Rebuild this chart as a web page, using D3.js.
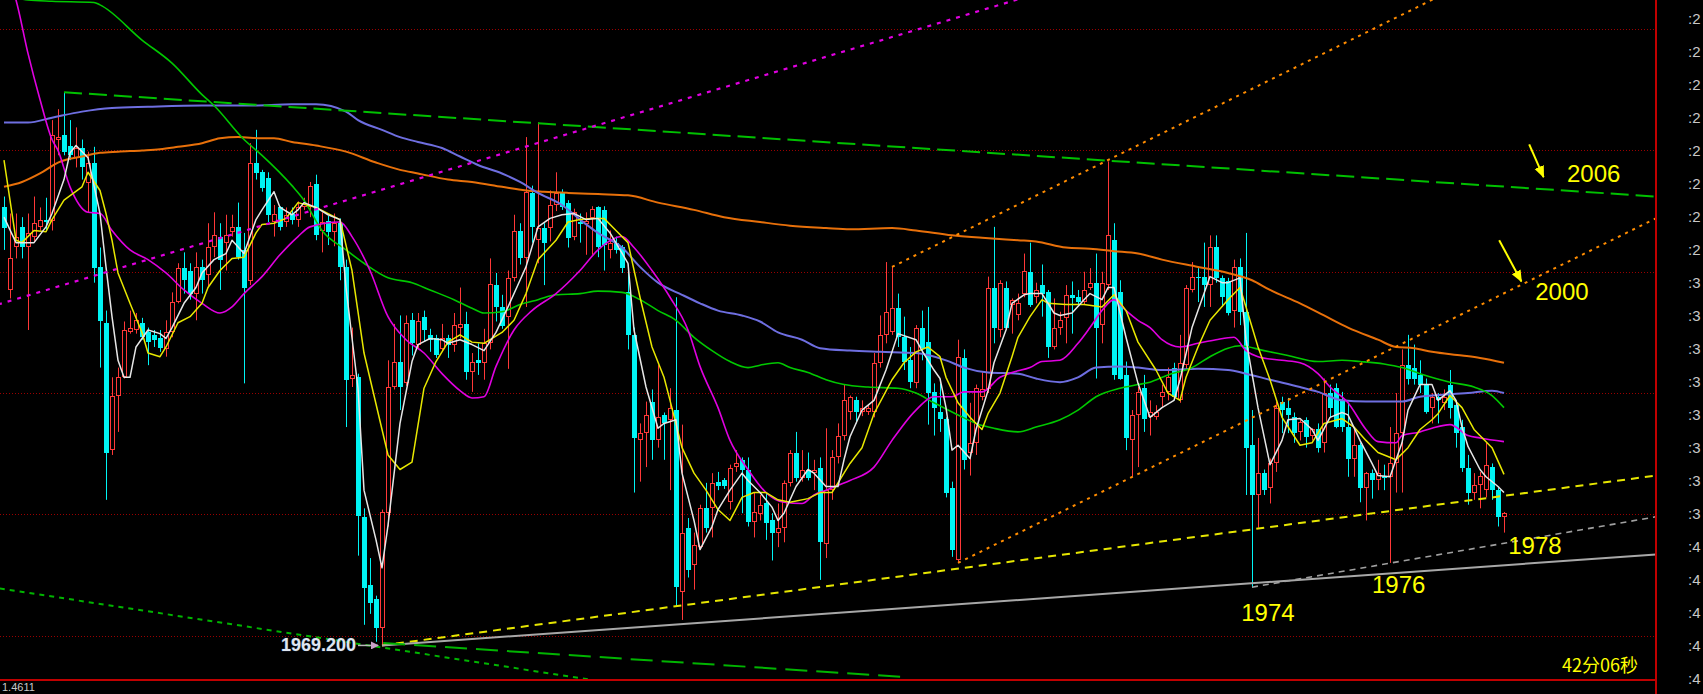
<!DOCTYPE html>
<html><head><meta charset="utf-8">
<script src="https://cdn.jsdelivr.net/npm/d3@7"></script>
<style>html,body{margin:0;padding:0;background:#000;overflow:hidden}</style>
</head><body><svg id="c" width="1703" height="694"></svg>
<script>
// ---------- DATA (prices) ----------
const opens = [
2005.3,1998.5,2002.0,2003.7,2002.0,2002.9,2003.7,2004.3,2004.2,2010.9,
2011.3,2010.4,2009.4,2010.2,2007.3,2009.0,2000.4,1995.8,1985.3,1989.8,
1991.3,1995.0,1995.2,1995.8,1995.0,1994.8,1994.5,1993.6,1995.0,1997.5,
2000.3,2000.1,1998.2,2000.4,1999.7,2002.0,2002.9,2002.4,2003.3,2003.7,
2001.8,1999.2,2009.0,2008.2,2007.7,2004.1,2005.3,2004.1,2004.8,2004.3,
2005.3,2005.3,2007.2,2003.4,2004.2,2003.3,2004.0,2000.4,1991.2,1991.3,
1979.8,1974.2,1973.0,1970.6,1980.1,1990.5,1992.6,1990.8,1996.0,1994.0,
1996.3,1994.8,1994.5,1993.6,1994.5,1994.0,1995.4,1995.7,1991.7,1992.7,
1992.5,1994.1,1998.9,1997.1,1996.3,1999.5,2003.4,2001.1,2006.5,2002.6,
2003.6,2003.6,2005.5,2006.6,2005.7,2002.9,2004.1,2003.9,2004.4,2005.3,
2005.1,2001.8,2002.4,2002.0,1998.3,1994.8,1986.1,1986.7,1989.3,1986.1,
1988.2,1987.8,1988.6,1973.6,1978.9,1975.8,1977.3,1980.5,1980.5,1982.7,
1982.8,1981.0,1983.9,1984.5,1983.7,1979.4,1980.0,1980.9,1979.5,1978.5,
1978.9,1982.6,1985.1,1983.0,1983.7,1983.4,1983.8,1977.6,1982.0,1984.7,
1986.5,1988.4,1989.4,1988.4,1988.4,1988.4,1992.5,1994.8,1995.0,1997.0,
1994.6,1992.7,1990.8,1995.4,1994.2,1990.1,1988.4,1987.9,1982.2,1976.2,
1992.9,1985.1,1985.9,1989.7,1990.3,1998.7,1995.2,1998.7,1997.3,1996.4,
1998.2,2000.0,1997.9,1998.9,1998.3,1993.8,1995.4,1996.2,1998.1,1997.9,
1997.5,1998.7,1999.1,1995.6,1998.9,2002.6,1998.3,1991.5,1986.1,1988.2,
1990.4,1988.0,1988.0,1989.7,1990.1,1992.1,1989.4,1992.3,1998.5,1999.6,
1999.6,1998.9,2002.0,1999.5,1999.2,1996.8,2000.4,1996.7,1985.7,1981.6,
1983.4,1982.2,1984.2,1989.3,1988.8,1988.0,1986.8,1987.8,1986.5,1987.0,
1985.9,1990.0,1990.4,1989.4,1987.2,1984.6,1985.7,1982.2,1983.4,1982.8,
1983.2,1983.1,1984.2,1986.7,1992.3,1992.1,1991.5,1990.7,1988.8,1989.7,
1989.2,1990.7,1989.0,1987.2,1983.8,1981.8,1982.4,1982.0,1983.9,1982.0,
1979.8];
const highs = [
2006.2,2004.8,2004.8,2004.5,2004.8,2006.2,2005.3,2006.1,2012.5,2013.4,
2014.8,2012.5,2011.9,2010.9,2009.9,2010.3,2002.0,1996.8,1991.3,1992.1,
1995.9,1996.8,1996.6,1996.2,1995.4,1995.2,1995.2,1996.0,1998.3,2000.7,
2001.6,2000.7,2001.6,2001.0,2004.0,2004.9,2004.0,2004.7,2004.7,2005.7,
2003.2,2010.6,2011.7,2008.4,2008.2,2005.5,2005.4,2005.3,2005.3,2005.8,
2006.1,2007.4,2008.0,2004.9,2004.6,2004.8,2004.4,2001.0,1995.4,1991.6,
1980.5,1976.4,1973.3,1980.4,1992.7,1995.7,1996.4,1996.4,1996.6,1996.6,
1996.8,1995.3,1994.8,1995.7,1994.8,1996.6,1998.7,1996.7,1993.3,1994.1,
1995.3,2001.1,1999.9,1998.1,2000.1,2004.7,2004.0,2011.1,2007.1,2012.3,
2004.0,2006.7,2008.2,2006.8,2005.9,2005.2,2004.8,2004.9,2005.4,2005.4,
2005.4,2003.4,2002.9,2002.2,2000.6,1995.4,1987.5,1989.3,1990.3,1992.3,
1988.4,1990.4,1997.9,1987.4,1979.7,1978.5,1980.8,1982.6,1983.4,1983.5,
1983.0,1984.1,1985.3,1984.7,1984.7,1981.8,1981.6,1981.8,1980.1,1980.9,
1982.8,1985.3,1986.8,1985.3,1985.1,1984.5,1984.7,1987.1,1985.3,1987.5,
1990.7,1989.8,1989.7,1989.4,1989.0,1993.3,1996.4,2000.8,2000.4,1998.2,
1996.3,1993.8,1995.6,1996.8,1997.1,1990.8,1990.8,1988.0,1982.7,1994.4,
1993.6,1989.2,1990.7,1991.7,1999.6,2003.7,1999.3,1999.2,1997.8,1998.2,
2001.5,2002.4,1999.1,2000.6,1998.5,1997.8,1996.7,1998.9,1999.2,1998.5,
2000.0,2000.3,2001.5,2000.0,2009.1,2004.0,1999.3,1992.6,1988.6,1990.5,
1991.5,1989.4,1989.0,1990.7,1992.1,1992.5,1994.8,1998.9,2000.8,2000.3,
2002.4,2003.0,2003.0,1999.7,1999.5,2001.0,2001.1,2003.2,1988.6,1986.3,
1983.7,1984.6,1989.3,1989.7,1989.6,1988.4,1987.8,1988.0,1987.1,1987.5,
1991.2,1990.7,1990.8,1990.1,1989.2,1987.1,1985.9,1983.5,1983.7,1984.5,
1984.1,1987.2,1990.0,1993.6,1994.8,1994.0,1992.7,1991.2,1990.0,1990.0,
1990.3,1991.9,1989.4,1987.8,1984.9,1983.4,1983.5,1985.9,1984.2,1982.2,
1980.2];
const lows = [
2001.8,1997.8,2001.1,2001.1,1995.2,2002.4,2003.4,2003.4,2003.4,2009.6,
2009.6,2009.2,2008.6,2007.6,2004.9,1999.1,1992.1,1981.2,1984.9,1986.8,
1991.2,1994.9,1994.9,1994.4,1992.3,1993.8,1993.4,1993.0,1994.6,1997.4,
1998.2,1997.7,1996.0,1998.2,1998.7,2001.2,1998.5,2000.1,2002.9,2001.0,
1990.8,1998.9,2007.6,2006.6,2004.1,2002.9,2003.4,2003.7,2003.9,2003.7,
2005.1,2004.5,2002.6,2001.6,2002.2,2002.1,1999.3,1987.2,1990.5,1976.6,
1970.9,1971.8,1969.5,1969.2,1979.0,1990.3,1988.6,1990.6,1993.1,1993.7,
1994.3,1993.4,1992.9,1993.4,1992.9,1993.4,1994.5,1991.1,1990.1,1991.5,
1991.1,1993.6,1995.9,1995.3,1992.0,1999.2,2000.6,1997.1,2002.4,2000.7,
1998.9,2002.5,2005.0,2005.1,2002.0,2002.6,2002.4,2001.4,2001.4,2001.2,
2000.1,2001.1,2001.5,1999.9,1993.6,1981.8,1982.7,1983.9,1984.5,1985.5,
1984.5,1982.0,1972.4,1971.3,1974.8,1973.8,1977.1,1978.5,1978.1,1982.0,
1982.1,1980.4,1983.5,1980.1,1979.0,1978.1,1979.5,1977.9,1976.2,1977.3,
1977.7,1982.3,1982.7,1982.7,1982.8,1982.0,1974.6,1976.4,1981.2,1984.2,
1986.1,1987.8,1987.5,1988.1,1988.2,1988.0,1992.1,1994.1,1994.8,1993.8,
1991.9,1990.4,1990.4,1992.7,1987.4,1986.5,1986.8,1981.4,1976.5,1976.0,
1983.7,1983.2,1984.9,1989.4,1990.0,1994.1,1994.6,1995.2,1994.9,1996.0,
1997.9,1997.1,1997.4,1996.3,1992.9,1993.6,1994.8,1994.1,1994.9,1997.3,
1997.3,1998.5,1991.2,1994.1,1998.5,1991.1,1991.1,1985.3,1983.1,1983.9,
1986.8,1986.5,1987.8,1988.8,1989.4,1989.4,1989.2,1991.9,1998.3,1997.5,
1997.1,1997.1,1999.1,1997.1,1996.4,1995.4,1995.6,1981.6,1974.0,1978.9,
1981.6,1980.9,1983.5,1986.7,1986.7,1985.9,1986.1,1985.5,1986.1,1985.1,
1985.1,1988.0,1987.1,1986.8,1983.1,1983.1,1981.0,1979.5,1981.3,1982.0,
1982.0,1976.0,1981.8,1981.8,1990.7,1990.7,1990.0,1988.3,1987.5,1987.5,
1988.6,1987.9,1985.5,1983.5,1980.8,1981.2,1980.5,1981.4,1981.2,1979.0,
1978.5];
const closes = [
2003.6,2001.1,2002.9,2002.0,2003.2,2004.0,2004.3,2004.1,2011.3,2011.1,
2009.9,2009.6,2010.2,2008.6,2009.0,2000.3,1995.9,1985.1,1989.8,1991.3,
1995.2,1995.4,1996.0,1994.6,1994.2,1994.4,1993.7,1995.0,1997.5,2000.3,
1999.3,1998.2,2000.4,1999.3,2002.0,2003.0,2001.0,2003.0,2003.7,2001.2,
1998.7,2009.0,2008.1,2006.9,2004.7,2004.8,2003.7,2004.7,2004.3,2005.3,
2005.7,2007.1,2003.0,2004.1,2003.3,2004.0,2000.4,1991.1,1991.5,1979.9,
1973.9,1972.7,1970.6,1980.2,1990.5,1992.6,1990.5,1995.8,1994.1,1995.9,
1995.2,1994.4,1993.1,1994.5,1994.0,1995.6,1995.7,1991.7,1992.6,1992.5,
1994.1,1999.0,1997.1,1995.5,1999.5,2003.4,2001.1,2006.6,2003.7,2003.6,
2002.4,2005.5,2006.5,2005.3,2002.8,2004.9,2003.9,2004.2,2005.2,2002.0,
2002.2,2002.4,2001.8,2000.3,1994.8,1986.3,1986.7,1988.2,1986.1,1988.0,
1987.5,1988.8,1974.0,1978.5,1975.4,1977.5,1980.5,1978.9,1982.6,1982.3,
1982.3,1983.8,1984.2,1983.7,1979.4,1980.2,1980.8,1979.3,1978.5,1978.9,
1982.6,1985.1,1983.0,1983.7,1983.0,1983.7,1977.7,1982.0,1984.7,1986.5,
1989.4,1989.7,1988.4,1988.8,1988.8,1992.5,1994.8,1996.7,1997.0,1994.6,
1992.6,1990.9,1995.4,1993.7,1990.0,1988.8,1987.9,1981.8,1977.1,1993.0,
1984.5,1985.9,1990.4,1990.3,1998.7,1995.4,1999.1,1995.4,1997.7,1997.4,
2000.1,1997.3,1998.5,1998.2,1993.8,1995.4,1996.0,1998.1,1997.8,1997.5,
1998.5,1999.1,1995.4,1999.1,2003.0,1991.5,1991.2,1986.3,1988.2,1990.1,
1987.9,1988.4,1988.4,1990.1,1991.3,1989.7,1992.5,1998.7,1999.6,1999.5,
1998.9,2002.0,1999.5,1997.9,1996.6,2000.4,1996.7,1985.5,1981.6,1983.4,
1982.0,1984.2,1988.8,1988.6,1988.2,1986.7,1987.6,1986.4,1987.0,1985.5,
1990.0,1988.8,1987.2,1987.2,1984.6,1985.7,1982.2,1983.4,1982.8,1983.4,
1983.0,1984.2,1986.7,1992.3,1991.2,1991.2,1990.7,1988.4,1989.7,1989.4,
1989.7,1988.8,1986.7,1983.8,1981.8,1982.4,1983.2,1984.1,1982.0,1979.8,
1980.1];

// moving-average lines: [candle index, price]
const maWhite = [[0,2004.5],[2,2002.4],[3,2002.4],[5,2002.4],[7,2003.7],[8,2004.8],[10,2007.6],[11,2009.8],[12,2010.4],[14,2009.4],[16,2004.8],[17,2000.4],[18,1996.3],[19,1992.7],[20,1991.3],[21,1991.3],[22,1993.8],[24,1995.2],[26,1994.9],[27,1994.5],[28,1995.4],[30,1997.4],[32,1998.7],[33,1999.9],[35,2001.0],[37,2001.5],[38,2002.6],[40,2001.5],[42,2004.3],[43,2005.1],[45,2006.6],[46,2005.3],[48,2004.7],[49,2005.1],[50,2005.7],[52,2005.3],[54,2004.7],[56,2004.3],[57,1998.7],[59,1990.4],[60,1982.0],[62,1977.9],[63,1975.6],[64,1979.1],[66,1987.5],[68,1992.6],[69,1994.0],[71,1994.5],[73,1994.4],[74,1994.1],[76,1994.4],[78,1994.0],[80,1993.5],[82,1995.0],[84,1997.1],[86,1999.3],[87,2000.4],[89,2003.7],[91,2004.4],[93,2004.7],[95,2004.8],[97,2004.3],[99,2004.4],[101,2003.2],[104,2000.7],[105,1995.2],[107,1990.5],[109,1987.1],[110,1987.5],[112,1987.8],[113,1983.4],[115,1979.5],[116,1977.1],[118,1979.0],[119,1980.4],[121,1982.0],[123,1983.4],[124,1982.8],[126,1981.8],[128,1980.6],[129,1979.5],[130,1980.1],[132,1982.3],[134,1983.7],[135,1983.4],[137,1982.3],[139,1982.3],[140,1984.5],[141,1986.4],[143,1988.6],[145,1989.4],[147,1991.9],[149,1994.9],[152,1994.4],[153,1993.5],[155,1991.9],[156,1991.2],[157,1988.8],[158,1985.3],[159,1985.7],[161,1984.6],[162,1987.0],[164,1990.2],[165,1992.5],[167,1995.2],[168,1997.4],[170,1998.1],[171,1998.2],[173,1998.2],[175,1996.6],[176,1996.4],[178,1996.6],[180,1997.7],[181,1998.2],[183,1997.7],[184,1998.7],[185,1998.7],[187,1994.6],[189,1990.8],[191,1988.0],[193,1988.8],[195,1989.4],[196,1991.1],[198,1995.4],[200,1998.2],[201,1999.6],[203,1999.1],[204,1999.1],[206,1999.5],[207,1994.4],[209,1988.8],[211,1984.1],[213,1986.1],[214,1987.8],[216,1987.9],[218,1987.0],[219,1986.1],[221,1988.0],[223,1988.4],[224,1988.2],[226,1986.1],[228,1984.2],[229,1983.2],[231,1983.1],[233,1985.9],[234,1988.6],[236,1990.7],[238,1990.7],[239,1989.4],[241,1990.2],[242,1989.4],[243,1987.2],[244,1985.6],[246,1983.7],[247,1983.1],[249,1982.3],[250,1981.8]];
const maYellow = [[0,2009.2],[1,2005.9],[2,2002.6],[3,2002.4],[5,2003.4],[7,2003.3],[8,2004.3],[10,2005.9],[13,2007.0],[14,2008.2],[16,2006.7],[17,2004.8],[18,2002.6],[19,1999.9],[21,1997.4],[23,1995.0],[24,1993.3],[26,1993.0],[27,1993.8],[29,1995.8],[31,1996.3],[33,1997.4],[34,1998.7],[36,2000.1],[38,2001.1],[40,2001.2],[42,2003.2],[43,2003.9],[45,2004.0],[47,2004.4],[49,2005.7],[52,2005.3],[56,2004.3],[58,2000.1],[60,1993.3],[63,1987.0],[64,1984.9],[66,1983.7],[68,1984.3],[70,1990.4],[72,1992.6],[74,1994.2],[76,1994.8],[78,1994.2],[80,1994.1],[83,1995.0],[85,1996.0],[87,1998.2],[89,2001.0],[92,2002.6],[94,2004.1],[96,2004.3],[98,2004.4],[100,2004.4],[102,2003.4],[104,2002.4],[106,1997.9],[108,1993.8],[110,1991.3],[111,1989.4],[113,1985.5],[115,1983.4],[117,1982.0],[119,1980.4],[121,1979.5],[123,1981.4],[125,1981.8],[127,1981.8],[129,1981.2],[131,1981.0],[134,1981.3],[136,1981.8],[138,1981.8],[139,1982.6],[141,1984.2],[143,1985.5],[145,1988.3],[148,1991.1],[150,1992.5],[152,1993.4],[154,1993.8],[156,1993.0],[157,1991.3],[159,1989.2],[161,1988.0],[163,1987.0],[164,1988.3],[166,1990.0],[168,1993.0],[169,1994.6],[171,1996.3],[173,1997.7],[174,1997.4],[177,1997.3],[180,1997.3],[183,1997.1],[185,1998.1],[187,1996.8],[189,1994.2],[192,1991.9],[194,1990.0],[196,1989.4],[197,1991.3],[199,1993.8],[201,1996.0],[204,1997.7],[206,1998.7],[207,1997.1],[209,1993.8],[211,1991.1],[213,1988.0],[216,1985.7],[218,1985.9],[220,1987.5],[223,1987.9],[225,1987.2],[227,1986.1],[229,1985.1],[232,1984.5],[234,1985.5],[236,1987.0],[238,1987.8],[239,1988.3],[241,1989.8],[243,1988.8],[245,1987.0],[248,1985.5],[250,1983.3]];
const maMagenta = [[0,2025.0],[2,2022.4],[4,2018.0],[6,2014.2],[8,2010.9],[9,2010.0],[11,2007.0],[14,2004.9],[16,2004.8],[18,2003.4],[21,2001.8],[24,2001.0],[27,1999.9],[30,1998.5],[33,1997.4],[36,1996.6],[38,1997.1],[40,1998.2],[43,1999.6],[46,2001.4],[49,2002.9],[51,2003.7],[56,2004.1],[58,2002.9],[61,2000.1],[64,1996.3],[67,1994.4],[70,1993.3],[73,1991.6],[76,1990.2],[78,1989.6],[80,1989.7],[82,1992.2],[85,1995.2],[88,1996.8],[92,1998.2],[96,2000.1],[99,2001.8],[103,2002.9],[105,2002.0],[108,2000.1],[111,1997.9],[114,1995.2],[116,1992.2],[119,1988.8],[121,1986.1],[124,1983.7],[127,1981.8],[130,1981.0],[133,1980.9],[135,1981.6],[137,1982.0],[139,1982.4],[141,1982.8],[145,1983.9],[148,1986.1],[152,1988.6],[155,1989.7],[158,1989.7],[160,1990.1],[163,1990.1],[166,1991.3],[168,1991.7],[171,1992.1],[173,1992.6],[176,1992.7],[179,1994.1],[181,1995.4],[183,1996.8],[185,1997.7],[187,1996.8],[189,1996.0],[191,1995.4],[193,1994.4],[196,1993.8],[199,1994.1],[202,1994.4],[205,1994.6],[207,1993.5],[209,1993.0],[213,1992.7],[216,1992.5],[219,1991.6],[221,1990.5],[224,1989.2],[227,1987.0],[229,1986.0],[232,1985.9],[233,1986.5],[236,1986.8],[238,1987.1],[241,1987.4],[244,1986.5],[246,1986.3],[250,1986.0]];
const maGreen = [[0,2022.9],[4,2022.4],[8,2022.3],[15,2022.2],[16,2022.0],[23,2019.1],[28,2017.2],[33,2014.6],[35,2013.7],[40,2010.9],[43,2009.6],[48,2007.1],[50,2005.9],[53,2003.4],[57,2001.8],[60,2000.7],[64,1999.5],[68,1999.1],[71,1998.5],[75,1997.7],[78,1997.0],[80,1996.6],[83,1996.7],[86,1997.3],[89,1997.7],[92,1998.1],[96,1998.2],[99,1998.4],[103,1998.3],[106,1997.7],[109,1996.8],[112,1996.0],[115,1994.6],[118,1993.5],[121,1992.6],[124,1992.1],[126,1992.3],[129,1992.5],[131,1992.1],[134,1991.7],[137,1991.1],[140,1990.7],[144,1990.5],[149,1990.4],[152,1990.0],[155,1989.2],[159,1988.2],[162,1987.5],[165,1987.1],[169,1986.8],[172,1987.2],[176,1987.8],[179,1988.6],[182,1989.7],[186,1990.4],[189,1990.7],[191,1990.9],[194,1991.5],[198,1992.1],[201,1993.0],[204,1993.7],[206,1993.9],[210,1993.5],[214,1993.1],[219,1992.6],[223,1992.7],[226,1992.6],[230,1992.4],[233,1992.1],[236,1991.6],[241,1990.9],[245,1990.5],[248,1989.8],[250,1988.8]];
const maBlue = [[0,2012.3],[4,2012.3],[8,2012.7],[13,2013.2],[18,2013.5],[24,2013.6],[33,2013.7],[41,2013.7],[48,2013.8],[52,2013.8],[57,2013.2],[59,2012.5],[63,2011.7],[66,2011.1],[69,2010.7],[73,2010.2],[76,2009.5],[79,2008.8],[83,2008.1],[86,2007.4],[89,2006.5],[93,2005.5],[96,2004.3],[99,2003.2],[103,2002.0],[106,2000.4],[109,1999.1],[113,1998.1],[116,1997.4],[119,1996.8],[123,1996.4],[126,1995.9],[129,1995.0],[133,1994.4],[136,1993.7],[141,1993.5],[146,1993.4],[152,1993.3],[157,1992.7],[160,1992.1],[164,1991.7],[169,1991.6],[172,1991.2],[176,1990.9],[179,1991.3],[182,1992.1],[186,1992.2],[189,1992.1],[193,1991.9],[199,1992.0],[204,1991.9],[207,1991.6],[211,1991.1],[216,1990.5],[219,1990.1],[223,1989.4],[227,1989.3],[230,1989.3],[233,1989.3],[236,1989.7],[238,1989.8],[244,1990.0],[248,1990.2],[250,1990.0]];
const maOrange = [[0,2007.0],[3,2007.4],[6,2008.1],[9,2009.0],[13,2009.5],[16,2009.8],[19,2009.9],[23,2010.0],[26,2010.1],[29,2010.3],[33,2010.6],[36,2011.0],[39,2011.1],[43,2011.0],[45,2011.0],[48,2010.7],[52,2010.4],[57,2009.9],[62,2009.0],[66,2008.4],[69,2008.1],[74,2007.6],[78,2007.4],[83,2007.0],[87,2006.7],[90,2006.6],[94,2006.5],[99,2006.4],[104,2006.3],[109,2005.7],[115,2005.1],[120,2004.5],[126,2004.1],[131,2003.8],[137,2003.6],[141,2003.5],[148,2003.6],[152,2003.4],[158,2003.0],[163,2002.8],[169,2002.6],[172,2002.5],[177,2002.0],[181,2001.9],[185,2001.7],[189,2001.5],[193,2001.0],[199,2000.4],[204,1999.9],[208,1999.3],[211,1998.5],[216,1997.4],[220,1996.4],[224,1995.4],[229,1994.4],[232,1993.8],[235,1993.7],[238,1993.4],[243,1993.1],[246,1992.9],[250,1992.5]];

// drawn trend lines: [candle index, price] end points
const upperGreenLine = [[10,2014.8],[275.3,2006.2]];
const magentaDotLine = [[-1,1997.3],[170,2022.6]];
const orangeDotLineA = [[148,2000.4],[240,2022.9]];
const orangeDotLineB = [[159,1976.0],[275.3,2004.4]];
const yellowDashLine = [[63,1969.2],[275.3,1983.2]];
const graySolidLine  = [[63,1969.2],[275.3,1976.7]];
const grayDashLine   = [[208,1974.0],[275.3,1979.8]];
const lowerGreenDots = [[-0.7,1973.9],[100,1966.2]];
const lowerGreenDash = [[63.2,1969.4],[150,1966.6]];

const gridPrices = [1970,1980,1990,2000,2010,2020];
const axisLabels = [":2",":2",":2",":2",":2",":2",":2",":2",":3",":3",":3",":3",":3",":3",":3",":3",":4",":4",":4",":4",":4"];
const yearNotes = [
  {text:"2006", i:260.5, p:2007.4},
  {text:"2000", i:255.2, p:1997.7},
  {text:"1978", i:250.7, p:1976.7},
  {text:"1976", i:228.0, p:1973.5},
  {text:"1974", i:206.2, p:1971.2}
];
const noteArrows = [
  {from:[254.2,2010.5], to:[256.6,2007.8]},
  {from:[249.2,2002.6], to:[252.9,1999.2]}
];
const lowLabel = {text:"1969.200", i:63, p:1969.2};

// ---------- DRAW ----------
const W = 1703, H = 694, PR = 1656, PB = 680;
const RED = "#ff3838", CYAN = "#00f4f4";
const svg = d3.select("#c");
svg.append("rect").attr("width",W).attr("height",H).attr("fill","#000");

const x = d3.scaleLinear().domain([0, 250]).range([4, 1504]);
const y = d3.scaleLinear().domain([1966.35, 2022.4]).range([PB, 0]);

const defs = svg.append("defs");
defs.append("clipPath").attr("id","clip").append("rect").attr("x",0).attr("y",0).attr("width",PR).attr("height",PB);
defs.append("marker").attr("id","arrY").attr("markerUnits","userSpaceOnUse")
  .attr("markerWidth",12).attr("markerHeight",12).attr("refX",11).attr("refY",6).attr("orient","auto")
  .append("path").attr("d","M0,1 L12,6 L0,11 Z").attr("fill","#ffff00");
defs.append("marker").attr("id","arrW").attr("markerUnits","userSpaceOnUse")
  .attr("markerWidth",8).attr("markerHeight",8).attr("refX",7).attr("refY",4).attr("orient","auto")
  .append("path").attr("d","M0,0 L8,4 L0,8 Z").attr("fill","#c8a0c8");

const plot = svg.append("g").attr("clip-path","url(#clip)");

// grid
plot.selectAll(".grid").data(gridPrices).join("line")
  .attr("x1",0).attr("x2",PR)
  .attr("y1",d=>Math.round(y(d))+0.5).attr("y2",d=>Math.round(y(d))+0.5)
  .attr("stroke","#9a0000").attr("stroke-width",1).attr("stroke-dasharray","1,2");

// candles
const candles = d3.range(opens.length).map(i=>({i,o:opens[i],h:highs[i],l:lows[i],c:closes[i]}));
const isUp = d => d.c >= d.o;
const cx = d => Math.round(x(d.i));
const cg = plot.append("g");
cg.selectAll("line").data(candles).join("line")
  .attr("x1",d=>cx(d)+0.5).attr("x2",d=>cx(d)+0.5)
  .attr("y1",d=>y(d.h)).attr("y2",d=>y(d.l))
  .attr("stroke",d=>isUp(d)?RED:CYAN).attr("stroke-width",1);
cg.selectAll("rect").data(candles).join("rect")
  .attr("x",d=>cx(d)-2+(isUp(d)?0.5:0))
  .attr("y",d=>Math.round(y(Math.max(d.o,d.c)))+(isUp(d)?0.5:0))
  .attr("width",d=>isUp(d)?4:5)
  .attr("height",d=>{
    const hgt = Math.round(y(Math.min(d.o,d.c))) - Math.round(y(Math.max(d.o,d.c)));
    return isUp(d) ? Math.max(hgt-1,0.5) : Math.max(hgt,1);
  })
  .attr("fill",d=>isUp(d)?"#000":CYAN)
  .attr("stroke",d=>isUp(d)?RED:"none").attr("stroke-width",1);

// moving averages
const lineLin = d3.line().x(d=>x(d[0])).y(d=>y(d[1]));
const lineSmooth = d3.line().x(d=>x(d[0])).y(d=>y(d[1])).curve(d3.curveMonotoneX);
const maSpecs = [
  {data:maOrange, color:"#e8700a", w:2, smooth:true},
  {data:maBlue, color:"#6e6ee0", w:2, smooth:true},
  {data:maGreen, color:"#00c800", w:1.6, smooth:true},
  {data:maMagenta, color:"#e000e0", w:1.6, smooth:true},
  {data:maYellow, color:"#e8e800", w:1.5, smooth:false},
  {data:maWhite, color:"#e6e6e6", w:1.5, smooth:false}
];
plot.selectAll(".ma").data(maSpecs).join("path")
  .attr("d",s=>(s.smooth?lineSmooth:lineLin)(s.data))
  .attr("fill","none").attr("stroke",s=>s.color).attr("stroke-width",s=>s.w)
  .attr("stroke-linejoin","round");

// trend lines
const trendSpecs = [
  {data:upperGreenLine, color:"#00c000", w:2, dash:"18,7"},
  {data:magentaDotLine, color:"#e000e0", w:2.2, dash:"4,6"},
  {data:orangeDotLineA, color:"#ff8c00", w:2, dash:"3,5"},
  {data:orangeDotLineB, color:"#ff8c00", w:2, dash:"3,5"},
  {data:yellowDashLine, color:"#e6e600", w:2, dash:"8,6"},
  {data:graySolidLine, color:"#a8a8a8", w:2, dash:null},
  {data:grayDashLine, color:"#a0a0a0", w:1.6, dash:"6,5"},
  {data:lowerGreenDots, color:"#00b400", w:2, dash:"5,5"},
  {data:lowerGreenDash, color:"#00b400", w:2, dash:"22,9"}
];
plot.selectAll(".trend").data(trendSpecs).join("path")
  .attr("d",s=>lineLin(s.data))
  .attr("fill","none").attr("stroke",s=>s.color).attr("stroke-width",s=>s.w)
  .attr("stroke-dasharray",s=>s.dash);

// low label and arrow
svg.append("line")
  .attr("x1",x(lowLabel.i)-24).attr("x2",x(lowLabel.i)-4)
  .attr("y1",y(lowLabel.p)).attr("y2",y(lowLabel.p))
  .attr("stroke","#b8b8b8").attr("stroke-width",1.5).attr("marker-end","url(#arrW)");
svg.append("text").text(lowLabel.text)
  .attr("x",x(lowLabel.i)-26).attr("y",y(lowLabel.p)+1)
  .attr("text-anchor","end").attr("dominant-baseline","middle")
  .attr("font-family","'Liberation Sans', Arial, sans-serif").attr("font-weight","bold").attr("font-size",18)
  .attr("fill","#dfe6f0").attr("stroke","#304060").attr("stroke-width",0.6).attr("paint-order","stroke");

// year notes + arrows
svg.selectAll(".note").data(yearNotes).join("text")
  .text(d=>d.text).attr("x",d=>x(d.i)).attr("y",d=>y(d.p))
  .attr("font-family","'Liberation Sans', Arial, sans-serif").attr("font-size",24)
  .attr("fill","#ffff00");
svg.selectAll(".narrow").data(noteArrows).join("line")
  .attr("x1",d=>x(d.from[0])).attr("y1",d=>y(d.from[1]))
  .attr("x2",d=>x(d.to[0])).attr("y2",d=>y(d.to[1]))
  .attr("stroke","#ffff00").attr("stroke-width",2).attr("marker-end","url(#arrY)");

// frame
svg.append("line").attr("x1",0).attr("x2",PR).attr("y1",PB).attr("y2",PB).attr("stroke","#c00000").attr("stroke-width",2);
svg.append("line").attr("x1",PR).attr("x2",PR).attr("y1",0).attr("y2",H).attr("stroke","#c00000").attr("stroke-width",2);

// right axis labels
const ly = d3.scalePoint().domain(d3.range(axisLabels.length)).range([20, 680]);
svg.selectAll(".axl").data(axisLabels).join("text")
  .text(d=>d).attr("x",1688).attr("y",(d,i)=>ly(i))
  .attr("dominant-baseline","middle")
  .attr("font-family","'Liberation Sans', Arial, sans-serif").attr("font-size",15)
  .attr("fill","#c8c8c8");

// status texts
svg.append("text").text("42分06秒").attr("x",1562).attr("y",672)
  .attr("font-family","'Noto Sans CJK SC', sans-serif").attr("font-size",18).attr("fill","#ffff00");
svg.append("text").text("1.4611").attr("x",2).attr("y",691)
  .attr("font-family","'Liberation Sans', Arial, sans-serif").attr("font-size",11).attr("fill","#c8c8c8");
</script>
</body></html>
